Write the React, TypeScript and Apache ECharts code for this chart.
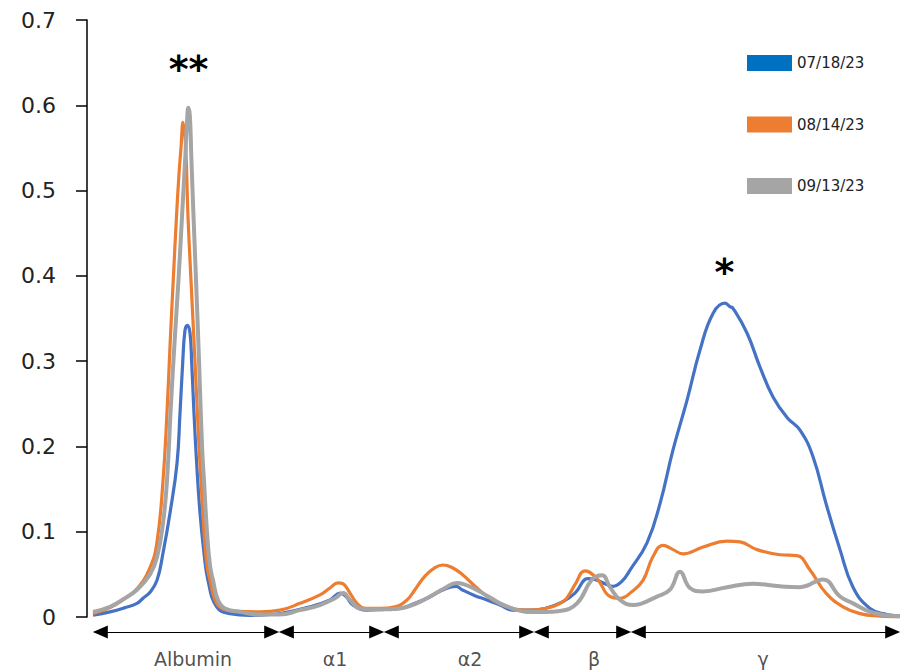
import React, { useEffect, useRef } from "react";
import * as echarts from "echarts";

// Migration distance (arbitrary units, 0–100) and relative intensity
const series0718: [number, number][] = [
  [0.74, 0.002], [2.83, 0.006], [4.67, 0.011], [6.15, 0.016], [6.89, 0.022], [7.75, 0.029],
  [8.61, 0.043], [9.35, 0.075], [10.21, 0.122], [11.07, 0.18], [11.44, 0.239], [11.77, 0.298],
  [12.05, 0.336], [12.34, 0.342], [12.67, 0.333], [12.88, 0.298], [13.16, 0.239], [13.49, 0.18],
  [13.9, 0.122], [14.39, 0.075], [14.88, 0.043], [15.95, 0.012], [17.59, 0.004], [20.05, 0.002],
  [22.51, 0.003], [23.74, 0.004], [27.43, 0.012], [29.89, 0.02], [31.12, 0.028], [31.86, 0.024],
  [32.72, 0.014], [34.44, 0.008], [36.65, 0.009], [38.5, 0.01], [40.34, 0.016], [41.82, 0.022],
  [43.42, 0.03], [44.65, 0.035], [45.39, 0.036], [46.13, 0.032], [47.72, 0.025], [49.2, 0.02],
  [50.8, 0.014], [52.4, 0.008], [54.49, 0.008], [56.33, 0.01], [58.55, 0.018], [60.02, 0.028],
  [61.62, 0.045], [62.48, 0.044], [63.71, 0.039], [64.7, 0.036], [65.81, 0.042], [66.79, 0.055],
  [68.88, 0.087], [70.48, 0.133], [72.08, 0.196], [73.8, 0.254], [75.4, 0.313], [77.0, 0.356],
  [78.47, 0.368], [79.09, 0.364], [79.46, 0.362], [81.18, 0.333], [82.78, 0.293], [84.38, 0.258],
  [86.1, 0.234], [87.7, 0.219], [89.3, 0.188], [90.9, 0.133], [92.62, 0.079], [94.22, 0.035],
  [96.31, 0.01], [98.4, 0.003], [100, 0.001],
];

const series0814: [number, number][] = [
  [0.74, 0.004], [2.83, 0.011], [4.67, 0.022], [6.15, 0.033], [7.75, 0.058], [8.61, 0.088],
  [9.35, 0.16], [9.84, 0.24], [10.27, 0.33], [10.61, 0.395], [11.01, 0.47], [11.32, 0.52],
  [11.56, 0.55], [11.81, 0.58], [12.14, 0.55], [12.42, 0.47], [12.79, 0.395], [13.28, 0.3],
  [13.78, 0.2], [14.02, 0.16], [14.39, 0.1], [14.76, 0.06], [15.13, 0.043], [15.74, 0.02],
  [16.61, 0.01], [18.2, 0.007], [21.28, 0.006], [23.74, 0.008], [26.2, 0.016], [28.66, 0.026],
  [29.89, 0.034], [30.87, 0.04], [31.49, 0.039], [32.35, 0.028], [33.21, 0.016], [34.19, 0.01],
  [36.04, 0.01], [37.88, 0.012], [39.36, 0.02], [40.34, 0.032], [41.57, 0.048], [42.8, 0.058],
  [43.79, 0.061], [44.9, 0.058], [46.13, 0.05], [47.97, 0.034], [49.57, 0.022], [51.41, 0.013],
  [54.12, 0.008], [56.33, 0.01], [58.55, 0.018], [59.41, 0.028], [60.02, 0.038], [61.25, 0.054],
  [62.73, 0.045], [64.33, 0.024], [65.56, 0.022], [67.04, 0.03], [68.39, 0.043], [69.62, 0.071],
  [70.85, 0.084], [72.08, 0.079], [73.31, 0.074], [75.77, 0.082], [78.72, 0.089], [80.32, 0.088],
  [82.41, 0.079], [85.24, 0.073], [87.33, 0.072], [88.93, 0.055], [90.9, 0.028], [92.99, 0.012],
  [95.08, 0.004], [97.54, 0.001], [100, 0.0],
];

const series0913: [number, number][] = [
  [0.74, 0.006], [2.83, 0.012], [4.67, 0.022], [6.15, 0.032], [7.75, 0.05], [8.61, 0.07],
  [9.35, 0.11], [9.84, 0.16], [10.33, 0.25], [10.82, 0.33], [11.25, 0.395], [11.69, 0.47],
  [12.09, 0.54], [12.3, 0.58], [12.46, 0.597], [12.65, 0.588], [12.83, 0.54], [13.1, 0.47],
  [13.41, 0.395], [13.78, 0.3], [14.15, 0.2], [14.39, 0.16], [14.76, 0.1], [15.13, 0.06],
  [15.5, 0.043], [16.11, 0.02], [16.97, 0.01], [18.82, 0.006], [21.28, 0.003], [23.74, 0.003],
  [26.2, 0.008], [28.66, 0.014], [30.5, 0.022], [31.49, 0.028], [32.35, 0.02], [33.58, 0.01],
  [36.04, 0.009], [38.5, 0.01], [40.34, 0.015], [41.82, 0.022], [44.03, 0.034], [45.51, 0.04],
  [46.49, 0.038], [47.48, 0.034], [49.2, 0.025], [50.8, 0.016], [52.64, 0.009], [54.12, 0.006],
  [56.33, 0.006], [58.18, 0.007], [60.27, 0.016], [62.12, 0.044], [63.35, 0.049], [64.33, 0.035],
  [65.56, 0.02], [67.16, 0.014], [70.11, 0.024], [71.71, 0.032], [72.94, 0.053], [74.17, 0.034],
  [75.77, 0.03], [78.72, 0.035], [81.92, 0.039], [85.24, 0.036], [87.7, 0.035], [90.53, 0.044],
  [92.62, 0.024], [94.22, 0.016], [96.68, 0.005], [100, 0.001],
];

const seriesNames = ["07/18/23", "08/14/23", "09/13/23"];

// Fraction boundaries along the migration axis
const fractionNames = ["Albumin", "α1", "α2", "β", "γ"];
const fractionBounds = [0.74, 23.62, 36.53, 54.98, 66.91, 100];
const fractionLabelX = [13.04, 30.5, 47.11, 62.36, 83.15];

// Significance marks
const marks: { x: number; y: number; text: string }[] = [
  { x: 12.5, y: 0.642, text: "**" },
  { x: 78.4, y: 0.405, text: "*" },
];

const FONT = "DejaVu Sans";

export default function App() {
  const ref = useRef<HTMLDivElement>(null);
  useEffect(() => {
    if (!ref.current) return;
    const chart = echarts.init(ref.current, undefined, { renderer: "svg" });
    const half = 0.9; // half arrowhead length in axis units
    const arrowY = 0.273;
    const labelY = 0.764;
    const lineColors = ["#4472C4", "#ED7D31", "#A5A5A5"];
    const legendColors = ["#0070C0", "#ED7D31", "#A5A5A5"];
    const datas = [series0718, series0814, series0913];
    const widths = [3.2, 3.2, 4];

    const option: any = {
      animation: false,
      backgroundColor: "#ffffff",
      textStyle: { fontFamily: FONT },
      grid: [
        { left: 87, right: 2, top: 20, bottom: 55, containLabel: false },
        { left: 87, right: 2, top: 617, bottom: 0, containLabel: false },
      ],
      xAxis: [
        { type: "value", gridIndex: 0, min: 0, max: 100, show: false },
        { type: "value", gridIndex: 1, min: 0, max: 100, show: false },
      ],
      yAxis: [
        {
          type: "value",
          gridIndex: 0,
          min: 0,
          max: 0.7,
          interval: 0.1,
          axisLine: { show: true, lineStyle: { color: "#000", width: 1.5 } },
          axisTick: { show: true, length: 11, lineStyle: { color: "#000", width: 1.5 } },
          splitLine: { show: false },
          axisLabel: { fontSize: 22, color: "#222", margin: 31, fontFamily: FONT },
        },
        { type: "value", gridIndex: 1, min: 0, max: 1, inverse: true, show: false },
      ],
      legend: {
        orient: "vertical",
        left: 747,
        top: 55,
        padding: 0,
        itemWidth: 45,
        itemHeight: 16,
        itemGap: 45.5,
        icon: "rect",
        textStyle: { fontSize: 15, color: "#222", fontFamily: FONT },
        data: seriesNames.map((n, i) => ({
          name: n,
          itemStyle: { color: legendColors[i], borderWidth: 0 },
        })),
      },
      series: [
        ...datas.map((d, i) => ({
          name: seriesNames[i],
          type: "line",
          xAxisIndex: 0,
          yAxisIndex: 0,
          data: d,
          smooth: 0.45,
          symbol: "none",
          showSymbol: false,
          z: 2 + i,
          color: lineColors[i],
          lineStyle: { color: lineColors[i], width: widths[i] },
          itemStyle: { color: legendColors[i] },
          markPoint:
            i === 0
              ? {
                  symbol: "circle",
                  symbolSize: 1,
                  itemStyle: { color: "transparent" },
                  silent: true,
                  label: {
                    show: true,
                    position: "inside",
                    color: "#000",
                    fontSize: 38,
                    fontWeight: "bold",
                    fontFamily: FONT,
                    formatter: (p: any) => p.name,
                  },
                  data: marks.map((m) => ({ name: m.text, coord: [m.x, m.y] })),
                }
              : undefined,
        })),
        {
          name: "fractions",
          type: "scatter",
          xAxisIndex: 1,
          yAxisIndex: 1,
          symbolSize: 1,
          itemStyle: { color: "transparent" },
          silent: true,
          label: {
            show: true,
            position: "inside",
            formatter: "{b}",
            fontSize: 19,
            color: "#222",
            fontFamily: FONT,
          },
          data: fractionNames.map((n, i) => ({ name: n, value: [fractionLabelX[i], labelY] })),
          markLine: {
            silent: true,
            symbol: ["triangle", "triangle"],
            symbolSize: [13, 15],
            label: { show: false },
            lineStyle: { color: "#000", width: 1, type: "solid" },
            itemStyle: { color: "#000" },
            data: fractionNames.map((_, i) => [
              { coord: [fractionBounds[i] + half, arrowY] },
              { coord: [fractionBounds[i + 1] - half, arrowY] },
            ]),
          },
        },
      ],
    };
    chart.setOption(option);
    return () => chart.dispose();
  }, []);
  return (
    <div
      ref={ref}
      style={{ position: "fixed", left: 0, top: 0, width: 902, height: 672, background: "#fff" }}
    />
  );
}
